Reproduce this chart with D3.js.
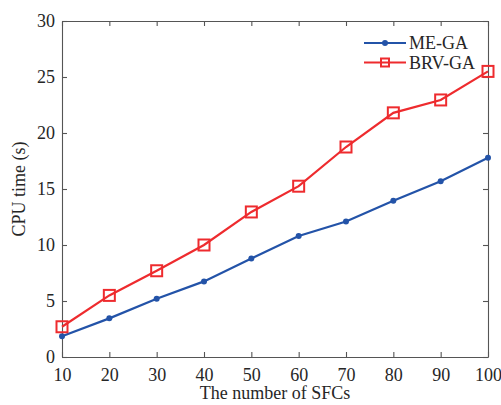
<meta charset="utf-8">
<html>
<head>
    <script src="https://d3js.org/d3.v7.min.js"></script>
    <style>
        body { margin: 0; background: #fff; }
        text { font-family: "Liberation Serif", "Times New Roman", serif; fill: #262626; }
    </style>
</head>
<body>
    <div id="chart"></div>
    <script>
        // data
        const sfcs = [10, 20, 30, 40, 50, 60, 70, 80, 90, 100];
        const meGA = [1.85, 3.45, 5.2, 6.75, 8.8, 10.8, 12.1, 13.95, 15.7, 17.8];
        const brvGA = [2.7, 5.5, 7.7, 10.0, 12.95, 15.25, 18.75, 21.8, 22.95, 25.5];
        const yTicks = [0, 5, 10, 15, 20, 25, 30];
        const seriesNames = ["ME-GA", "BRV-GA"];

        const W = 501, H = 405;
        const margin = { top: 21, right: 13, bottom: 48, left: 62 };
        const width = W - margin.left - margin.right,
            height = H - margin.top - margin.bottom;

        const svg = d3.select("#chart").append("svg")
            .attr("width", W).attr("height", H)
            .append("g")
            .attr("transform", `translate(${margin.left},${margin.top})`);

        const x = d3.scaleLinear().domain([10, 100]).range([0, width]);
        const y = d3.scaleLinear().domain([0, 30]).range([height, 0]);

        const axisColor = "#555";

        // bottom axis with labels, ticks pointing inward
        const xAxis = svg.append("g").attr("transform", `translate(0,${height})`)
            .call(d3.axisBottom(x).tickValues(sfcs).tickSizeInner(-5).tickSizeOuter(0).tickPadding(11));
        const yAxis = svg.append("g")
            .call(d3.axisLeft(y).tickValues(yTicks).tickSizeInner(-5).tickSizeOuter(0).tickPadding(7));
        // top and right axes, ticks only
        const xTop = svg.append("g")
            .call(d3.axisTop(x).tickValues(sfcs).tickSizeInner(-5).tickSizeOuter(0).tickFormat(""));
        const yRight = svg.append("g").attr("transform", `translate(${width},0)`)
            .call(d3.axisRight(y).tickValues(yTicks).tickSizeInner(-5).tickSizeOuter(0).tickFormat(""));

        [xAxis, yAxis, xTop, yRight].forEach(a => {
            a.selectAll("path, line").attr("stroke", axisColor).attr("stroke-width", 1.1);
            a.selectAll("text").style("font-size", "18px")
                .style("font-family", "'Liberation Serif', serif").attr("fill", "#262626");
        });

        // axis titles
        svg.append("text")
            .attr("x", width / 2).attr("y", height + 42)
            .attr("text-anchor", "middle")
            .style("font-size", "18px")
            .text("The number of SFCs");

        svg.append("text")
            .attr("transform", "rotate(-90)")
            .attr("x", -height / 2).attr("y", -37)
            .attr("text-anchor", "middle")
            .style("font-size", "18px")
            .text("CPU time (s)");

        const blue = "#2353a8", red = "#ee2b2e";
        const line = d3.line().x((d, i) => x(sfcs[i])).y(d => y(d));

        // ME-GA
        svg.append("path").datum(meGA)
            .attr("fill", "none").attr("stroke", blue).attr("stroke-width", 2.2)
            .attr("d", line);
        svg.append("g").selectAll("circle").data(meGA).enter().append("circle")
            .attr("cx", (d, i) => x(sfcs[i])).attr("cy", d => y(d))
            .attr("r", 3).attr("fill", blue);

        // BRV-GA
        svg.append("path").datum(brvGA)
            .attr("fill", "none").attr("stroke", red).attr("stroke-width", 2.2)
            .attr("d", line);
        const s = 11;
        svg.append("g").selectAll("rect").data(brvGA).enter().append("rect")
            .attr("x", (d, i) => x(sfcs[i]) - s / 2).attr("y", d => y(d) - s / 2)
            .attr("width", s).attr("height", s)
            .attr("fill", "none").attr("stroke", red).attr("stroke-width", 2);

        // legend
        const legend = svg.append("g").attr("transform", `translate(${364 - margin.left},${43 - margin.top})`);
        seriesNames.forEach((name, i) => {
            const g = legend.append("g").attr("transform", `translate(0,${i * 19.5})`);
            const c = i === 0 ? blue : red;
            g.append("line").attr("x1", 0).attr("x2", 42).attr("y1", 0).attr("y2", 0)
                .attr("stroke", c).attr("stroke-width", 2.2);
            if (i === 0) {
                g.append("circle").attr("cx", 21).attr("cy", 0).attr("r", 3).attr("fill", c);
            } else {
                g.append("rect").attr("x", 17).attr("y", -4).attr("width", 8).attr("height", 8)
                    .attr("fill", "none").attr("stroke", c).attr("stroke-width", 2);
            }
            g.append("text").attr("x", 45).attr("y", 6)
                .style("font-size", "18px").text(name);
        });
    </script>
</body>
</html>
